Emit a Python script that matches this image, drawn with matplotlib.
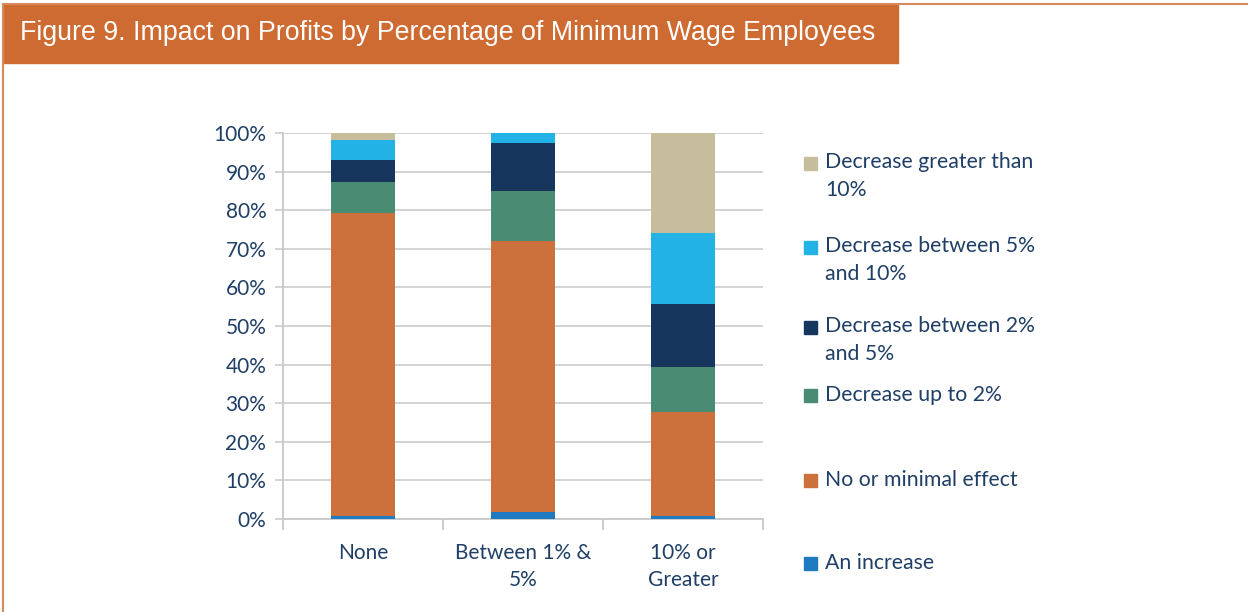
import matplotlib.pyplot as plt
from matplotlib.patches import Rectangle
import numpy as np

plt.rcParams['font.family'] = ['Lato', 'DejaVu Sans']

# data (percent of respondents)
categories = ['None', 'Between 1% &\n5%', '10% or\nGreater']
series_names = ['An increase', 'No or minimal effect', 'Decrease up to 2%',
                'Decrease between 2%\nand 5%', 'Decrease between 5%\nand 10%',
                'Decrease greater than\n10%']
an_increase = [0.8, 1.8, 0.8]
no_effect = [78.5, 70.3, 26.9]
decrease_up_to_2 = [8.1, 12.9, 11.7]
decrease_2_to_5 = [5.7, 12.5, 16.3]
decrease_5_to_10 = [5.2, 2.5, 18.5]
decrease_over_10 = [1.7, 0.0, 25.8]

colors = ['#1F7BC1', '#CC703C', '#4A8B73', '#17365D', '#22B2E5', '#C5BD9B']
text_color = '#1F3F66'
header_color = '#CD6B32'

fig = plt.figure(figsize=(12.48, 6.12), dpi=100)

# header band and frame
fig.patches.append(Rectangle((3 / 1248, 1 - 63 / 612), 895 / 1248, 59 / 612,
                             transform=fig.transFigure, color=header_color, zorder=0))
fig.add_artist(plt.Line2D([3 / 1248, 1], [1 - 4 / 612, 1 - 4 / 612],
                          transform=fig.transFigure, color='#D98A5C', lw=1.5))
fig.add_artist(plt.Line2D([3 / 1248, 3 / 1248], [0, 1 - 4 / 612],
                          transform=fig.transFigure, color='#D98A5C', lw=1.5))
fig.text(20 / 1248, 1 - 33 / 612, 'Figure 9. Impact on Profits by Percentage of Minimum Wage Employees',
         color='white', fontsize=19.3, family='Liberation Sans', va='center', ha='left')

ax = fig.add_axes([283 / 1248, 1 - 519 / 612, 480 / 1248, 386 / 612])

all_series = [an_increase, no_effect, decrease_up_to_2, decrease_2_to_5,
              decrease_5_to_10, decrease_over_10]
x = np.arange(len(categories))
bottom = np.zeros(len(categories))
for vals, col, name in zip(all_series, colors, series_names):
    ax.bar(x, vals, width=0.4, bottom=bottom, color=col, label=name, zorder=3)
    bottom += np.array(vals)

ax.set_xlim(-0.5, 2.5)
ax.set_ylim(0, 100)
ax.set_yticks(np.arange(0, 101, 10))
ax.set_yticklabels([f'{v}%' for v in range(0, 101, 10)])
ax.yaxis.grid(True, color='#D0D0D0', lw=1.3, zorder=0)
ax.set_xticks(x)
ax.set_xticklabels(categories, linespacing=1.45)
ax.set_xticks([-0.5, 0.5, 1.5, 2.5], minor=True)
ax.tick_params(axis='x', which='major', length=0, pad=17, labelsize=15, labelcolor=text_color)
ax.tick_params(axis='x', which='minor', length=8, color='#C8C8C8', width=1.3)
ax.tick_params(axis='y', length=6, color='#D0D0D0', width=1.3, pad=6, labelsize=15,
               labelcolor=text_color)
for side in ['top', 'right']:
    ax.spines[side].set_visible(False)
ax.spines['left'].set_color('#C8C8C8')
ax.spines['left'].set_linewidth(1.3)
ax.spines['bottom'].set_color('#C8C8C8')
ax.spines['bottom'].set_linewidth(1.3)

# legend drawn by hand to keep the uneven spacing of the original
legend_rows = [563, 480, 395, 340, 260, 176]
for name, col, ypix in zip(series_names, colors, legend_rows):
    first_line = ypix - 13 if '\n' in name else ypix
    fig.patches.append(Rectangle((804 / 1248, 1 - (first_line + 7) / 612), 13 / 1248, 13 / 612,
                                 transform=fig.transFigure, color=col))
    fig.text(825 / 1248, 1 - ypix / 612, name, color=text_color, fontsize=15.3,
             va='center', ha='left', linespacing=1.45)

fig.savefig('out.png', dpi=100)
